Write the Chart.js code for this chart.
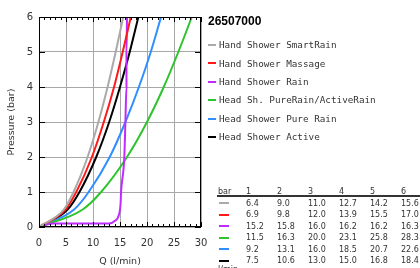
<!DOCTYPE html>
<html><head><meta charset="utf-8">
<script src="https://cdn.jsdelivr.net/npm/chart.js@4"></script>
<style>
html,body{margin:0;padding:0;background:#fff;overflow:hidden}
#wrap{position:relative;width:420px;height:268px;overflow:hidden}
canvas{position:absolute;left:0;top:0}
.t{position:absolute;white-space:nowrap;color:#333}
.sw{position:absolute;height:2px}
</style></head>
<body><div id="wrap"><canvas id="c" width="420" height="268"></canvas></div>
<script>
// ---- data ----
const chartTitle = '26507000';
const seriesNames = ['Hand Shower SmartRain','Hand Shower Massage','Hand Shower Rain','Head Sh. PureRain/ActiveRain','Head Shower Pure Rain','Head Shower Active'];
const seriesColors = ['#aaaaaa','#ff1a1a','#c02cff','#2ec42e','#2f8fff','#000000'];
const pressureBar = [0,1,2,3,4,5,6];
const flowSmartRain = [0,6.4,9.0,11.0,12.7,14.2,15.6];
const flowMassage   = [0,6.9,9.8,12.0,13.9,15.5,17.0];
const flowRain      = [0,15.2,15.8,16.0,16.2,16.2,16.3];
const flowPureActiveRain = [0,11.5,16.3,20.0,23.1,25.8,28.3];
const flowPureRain  = [0,9.2,13.1,16.0,18.5,20.7,22.6];
const flowActive    = [0,7.5,10.6,13.0,15.0,16.8,18.4];
// flow at 0.5 bar (null: not used)
const flowHalfBar   = [4.6,4.9,null,8.1,6.5,5.3];
// low-pressure part of the Hand Shower Rain curve
const rainLowFlow     = [0,2.5,13.0,14.0,14.8,15.1];
const rainLowPressure = [0,0.1,0.1,0.17,0.35,0.65];
const tableHeader = ['bar','1','2','3','4','5','6'];
const xTicksMajor = 5, xTicksMinor = 1;

// ---- build ----
const flows = [flowSmartRain,flowMassage,flowRain,flowPureActiveRain,flowPureRain,flowActive];
function pts(f, i){
  let a;
  if (i === 2){
    a = rainLowFlow.map((q,k)=>({x:q,y:rainLowPressure[k]}));
  } else {
    a = [{x:f[0],y:pressureBar[0]}, {x:flowHalfBar[i], y:0.5}];
  }
  for (let k=1;k<f.length;k++) a.push({x:f[k],y:pressureBar[k]});
  return a;
}
const datasets = flows.map((f,i)=>({
  label: seriesNames[i], data: pts(f,i), borderColor: seriesColors[i],
  backgroundColor: seriesColors[i], borderWidth: 2, pointRadius: 0,
  showLine: true, cubicInterpolationMode: 'monotone', fill: false
}));

const frame = {
  id:'frame',
  afterDraw(chart){
    const {ctx, chartArea:a, scales:{x,y}} = chart;
    ctx.save();
    ctx.strokeStyle='#000'; ctx.lineWidth=1;
    ctx.strokeRect(a.left+0.5,a.top+0.5,a.right-a.left-1,a.bottom-a.top-1);
    ctx.beginPath();
    for (let v=0; v<=30; v+=xTicksMinor){
      const px = Math.round(x.getPixelForValue(v))+0.5;
      const len = (v % xTicksMajor === 0) ? 5 : 3;
      ctx.moveTo(px,a.bottom); ctx.lineTo(px,a.bottom-len);
      ctx.moveTo(px,a.top); ctx.lineTo(px,a.top+len);
    }
    for (let v=0; v<=6; v++){
      const py = Math.round(y.getPixelForValue(v))+0.5;
      ctx.moveTo(a.left,py); ctx.lineTo(a.left+6,py);
      ctx.moveTo(a.right,py); ctx.lineTo(a.right-6,py);
    }
    ctx.stroke();
    ctx.restore();
  }
};

new Chart(document.getElementById('c'), {
  type:'scatter',
  data:{datasets},
  options:{
    responsive:false, animation:false, devicePixelRatio:1,
    layout:{padding:{left:0,top:17,right:219,bottom:0}},
    plugins:{legend:{display:false},tooltip:{enabled:false}},
    scales:{
      x:{type:'linear',min:0,max:30,
        ticks:{stepSize:xTicksMajor,font:{family:'DejaVu Sans',size:10},color:'#333',padding:10,maxRotation:0},
        grid:{color:'#a8a8a8',drawTicks:false},
        border:{display:false},
        title:{display:true,text:'Q (l/min)',font:{family:'DejaVu Sans',size:9.5},color:'#333',padding:{top:1,bottom:1}},
        afterFit(s){s.height=41;}
      },
      y:{type:'linear',min:0,max:6,
        ticks:{stepSize:1,font:{family:'DejaVu Sans',size:10},color:'#333',padding:6},
        grid:{color:'#a8a8a8',drawTicks:false},
        border:{display:false},
        title:{display:true,text:'Pressure (bar)',font:{family:'DejaVu Sans',size:9.5},color:'#333',padding:{top:6,bottom:6}},
        afterFit(s){s.width=39;}
      }
    }
  },
  plugins:[frame]
});

// ---- legend & table (HTML text) ----
const wrap = document.getElementById('wrap');
function txt(s, x, cy, font, size, extra){
  const d = document.createElement('div');
  d.className='t'; d.textContent=s;
  d.style.left=x+'px'; d.style.top=(cy-size*0.6)+'px';
  d.style.font=font; d.style.lineHeight=(size*1.2)+'px';
  if (extra) Object.assign(d.style, extra);
  wrap.appendChild(d);
}
function sw(x,cy,w,color){
  const d=document.createElement('div'); d.className='sw';
  d.style.left=x+'px'; d.style.top=(cy-1)+'px'; d.style.width=w+'px'; d.style.background=color;
  wrap.appendChild(d);
}
txt(chartTitle, 208, 21.5, 'bold 12px "Liberation Sans"', 12, {color:'#000'});
seriesNames.forEach((n,i)=>{
  const cy = 44.7 + 18.45*i;
  sw(208, cy, 8, seriesColors[i]);
  txt(n, 219, cy, '9.3px "DejaVu Sans Mono"', 9.3);
});
const colX = [218,246,277,308,339,370,401];
tableHeader.forEach((h,j)=> txt(h, colX[j], 192, '8px "DejaVu Sans"', 8));
const rule = document.createElement('div');
rule.style.cssText='position:absolute;left:217px;top:195px;width:210px;height:2px;background:#333';
wrap.appendChild(rule);
flows.forEach((f,i)=>{
  const cy = 203.3 + 11.5*i;
  sw(219, cy, 10, seriesColors[i]);
  for (let k=1;k<=6;k++) txt(f[k].toFixed(1), colX[k], cy, '8px "DejaVu Sans"', 8);
});
txt('l/min', 218, 270, '8px "DejaVu Sans"', 8);
</script>
</body></html>
